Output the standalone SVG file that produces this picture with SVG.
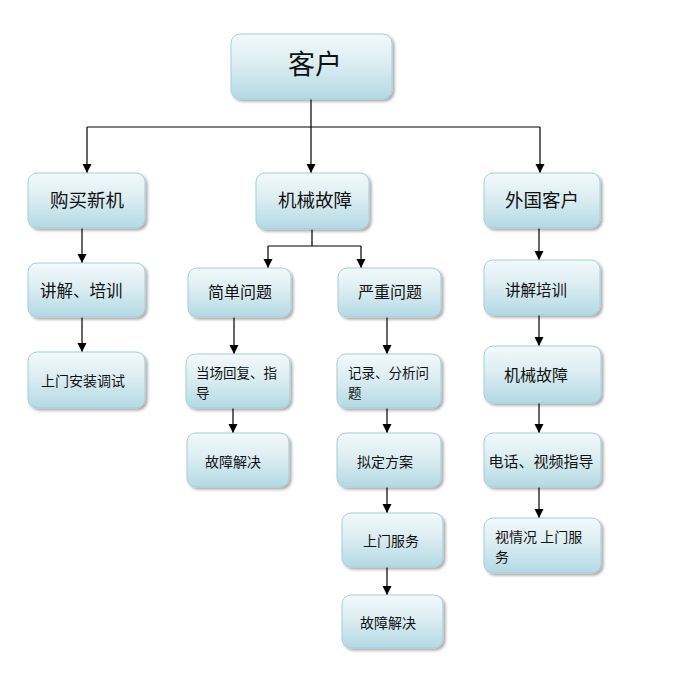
<svg xmlns="http://www.w3.org/2000/svg" width="692" height="679" viewBox="0 0 692 679">
<defs>
<linearGradient id="g" x1="0" y1="0" x2="0" y2="1">
<stop offset="0" stop-color="#f2f9fb"/>
<stop offset="0.45" stop-color="#dcedf2"/>
<stop offset="1" stop-color="#b3d9e4"/>
</linearGradient>
<filter id="sh" x="-10%" y="-10%" width="125%" height="130%">
<feGaussianBlur in="SourceAlpha" stdDeviation="1.5"/>
<feOffset dx="1.5" dy="2" result="b"/>
<feComponentTransfer><feFuncA type="linear" slope="0.35"/></feComponentTransfer>
<feMerge><feMergeNode/><feMergeNode in="SourceGraphic"/></feMerge>
</filter>
<marker id="ar" markerUnits="userSpaceOnUse" markerWidth="10" markerHeight="10" refX="9" refY="5" orient="auto">
<path d="M0,0.5 L9,5 L0,9.5 Z" fill="#000"/>
</marker>
</defs>
<style>
.n rect{fill:url(#g);stroke:#a8ccd7;stroke-width:1;filter:url(#sh)}
.n text{font-family:"Noto Sans CJK SC","Liberation Sans",sans-serif;fill:#111}
.c path{fill:none;stroke:#000;stroke-width:1.2}
.c .a{marker-end:url(#ar)}
</style>
<rect width="692" height="679" fill="#fff"/>
<g class="c">
<path d="M311,99 V127 M87,127 H540"/>
<path class="a" d="M87,127 V173"/>
<path class="a" d="M311,127 V173"/>
<path class="a" d="M540,127 V173"/>
<path class="a" d="M82,228 V263"/>
<path class="a" d="M82,317 V352"/>
<path d="M312,229 V246 M268,246 H361"/>
<path class="a" d="M268,246 V268"/>
<path class="a" d="M361,246 V268"/>
<path class="a" d="M234,317 V354"/>
<path class="a" d="M233,408 V433"/>
<path class="a" d="M387,317 V354"/>
<path class="a" d="M387,408 V433"/>
<path class="a" d="M387,487 V513"/>
<path class="a" d="M387,567 V595"/>
<path class="a" d="M539,228 V260"/>
<path class="a" d="M539,315 V346"/>
<path class="a" d="M539,403 V433"/>
<path class="a" d="M539,487 V518"/>
</g>
<g class="n" id="n-kehu"><rect x="231" y="34" width="161" height="65" rx="9"/><text x="315" y="74" font-size="27" text-anchor="middle">客户</text></g>
<g class="n" id="n-goumai"><rect x="28" y="173" width="117" height="55" rx="9"/><text x="87" y="207" font-size="18.5" text-anchor="middle">购买新机</text></g>
<g class="n" id="n-jixie"><rect x="256" y="173" width="113" height="56" rx="9"/><text x="315" y="207" font-size="18.5" text-anchor="middle">机械故障</text></g>
<g class="n" id="n-waiguo"><rect x="484" y="173" width="116" height="55" rx="9"/><text x="542" y="207" font-size="18.5" text-anchor="middle">外国客户</text></g>
<g class="n" id="n-jiangjie"><rect x="28" y="263" width="117" height="54" rx="9"/><text x="40" y="297" font-size="16.5">讲解、培训</text></g>
<g class="n" id="n-anzhuang"><rect x="28" y="352" width="117" height="56" rx="9"/><text x="41" y="386" font-size="14">上门安装调试</text></g>
<g class="n" id="n-jiandan"><rect x="188" y="268" width="103" height="49" rx="9"/><text x="240" y="298" font-size="16" text-anchor="middle">简单问题</text></g>
<g class="n" id="n-yanzhong"><rect x="338" y="268" width="103" height="49" rx="9"/><text x="390" y="298" font-size="16" text-anchor="middle">严重问题</text></g>
<g class="n" id="n-dangchang"><rect x="186" y="354" width="104" height="54" rx="9"/><text x="196" y="378" font-size="13.5">当场回复、指</text><text x="196" y="398" font-size="13.5">导</text></g>
<g class="n" id="n-jiejue1"><rect x="187" y="433" width="102" height="54" rx="9"/><text x="233" y="467" font-size="14" text-anchor="middle">故障解决</text></g>
<g class="n" id="n-jilu"><rect x="337" y="354" width="104" height="54" rx="9"/><text x="348" y="378" font-size="13.5">记录、分析问</text><text x="348" y="398" font-size="13.5">题</text></g>
<g class="n" id="n-niding"><rect x="337" y="433" width="104" height="54" rx="9"/><text x="385" y="467" font-size="14" text-anchor="middle">拟定方案</text></g>
<g class="n" id="n-shangmen"><rect x="342" y="513" width="101" height="54" rx="9"/><text x="391" y="546" font-size="14" text-anchor="middle">上门服务</text></g>
<g class="n" id="n-jiejue2"><rect x="342" y="595" width="101" height="53" rx="9"/><text x="388" y="628" font-size="14" text-anchor="middle">故障解决</text></g>
<g class="n" id="n-jiangjie2"><rect x="484" y="260" width="116" height="55" rx="9"/><text x="536" y="296" font-size="15.5" text-anchor="middle">讲解培训</text></g>
<g class="n" id="n-jixie2"><rect x="484" y="346" width="117" height="57" rx="9"/><text x="536" y="381" font-size="16" text-anchor="middle">机械故障</text></g>
<g class="n" id="n-dianhua"><rect x="484" y="433" width="117" height="54" rx="9"/><text x="541" y="467" font-size="15" text-anchor="middle">电话、视频指导</text></g>
<g class="n" id="n-shiqing"><rect x="484" y="518" width="117" height="55" rx="9"/><text x="495" y="542" font-size="14">视情况 上门服</text><text x="495" y="562" font-size="14">务</text></g>
</svg>
